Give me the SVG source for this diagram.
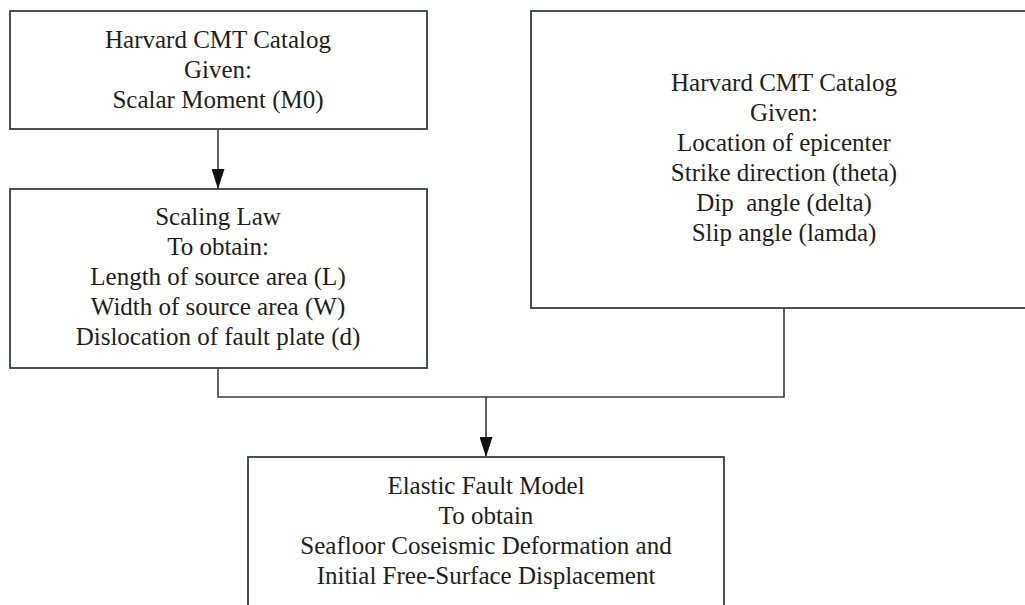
<svg xmlns="http://www.w3.org/2000/svg" width="1025" height="605" viewBox="0 0 1025 605">
<style>
.box{fill:#fff;stroke:#3a3d3d;stroke-width:1.8}
.ln{fill:none;stroke:#3a3d3d;stroke-width:1.6}
text{font-family:"Liberation Serif","Times New Roman",serif;font-size:25px;fill:#1e1e1e;text-anchor:middle}
</style>
<defs>
<marker id="arr" markerWidth="20" markerHeight="13" refX="20" refY="6.5" orient="auto" markerUnits="userSpaceOnUse" viewBox="0 0 20 13">
<path d="M0,0 L20,6.5 L0,13 Z" fill="#111"/>
</marker>
</defs>
<rect width="1025" height="605" fill="#fff"/>
<g id="connectors">
<line class="ln" x1="218" y1="129" x2="218" y2="189" marker-end="url(#arr)"/>
<polyline class="ln" points="218,368 218,397 784,397 784,308"/>
<line class="ln" x1="486" y1="397" x2="486" y2="457" marker-end="url(#arr)"/>
</g>
<g id="n1">
<rect class="box" x="10" y="11" width="417" height="118"/>
<text x="218" y="48">Harvard CMT Catalog</text>
<text x="218" y="78">Given:</text>
<text x="218" y="108">Scalar Moment (M0)</text>
</g>
<g id="n2">
<rect class="box" x="10" y="189" width="417" height="179"/>
<text x="218" y="225">Scaling Law</text>
<text x="218" y="255">To obtain:</text>
<text x="218" y="285">Length of source area (L)</text>
<text x="218" y="315">Width of source area (W)</text>
<text x="218" y="345">Dislocation of fault plate (d)</text>
</g>
<g id="n3">
<rect class="box" x="531" y="11" width="510" height="297"/>
<text x="784" y="91">Harvard CMT Catalog</text>
<text x="784" y="121">Given:</text>
<text x="784" y="151">Location of epicenter</text>
<text x="784" y="181">Strike direction (theta)</text>
<text x="784" y="211" xml:space="preserve">Dip  angle (delta)</text>
<text x="784" y="241">Slip angle (lamda)</text>
</g>
<g id="n4">
<rect class="box" x="248" y="457" width="476" height="170"/>
<text x="486" y="494">Elastic Fault Model</text>
<text x="486" y="524">To obtain</text>
<text x="486" y="554">Seafloor Coseismic Deformation and</text>
<text x="486" y="584">Initial Free-Surface Displacement</text>
</g>
</svg>
